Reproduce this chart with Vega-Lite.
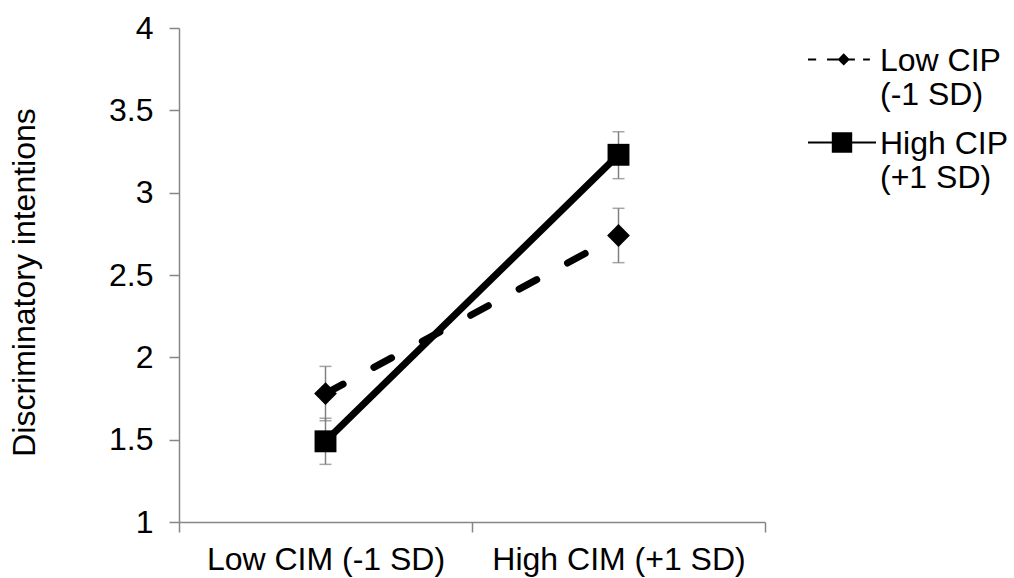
{
  "$schema": "https://vega.github.io/schema/vega-lite/v6.json",
  "width": 586,
  "height": 494,
  "autosize": {"type": "none"},
  "padding": {"left": 179, "top": 28, "right": 249, "bottom": 56},
  "config": {
    "font": "Liberation Sans",
    "view": {"stroke": null},
    "axis": {"grid": false, "domainColor": "#868686", "tickColor": "#868686", "domainWidth": 1.5, "tickWidth": 1.5, "labelColor": "#000000", "titleColor": "#000000", "labelFontSize": 32, "titleFontSize": 32, "titleFontWeight": "normal", "labelLimit": 400}
  },
  "data": {
    "values": [
      {"cim": "Low CIM (-1 SD)", "series": "Low CIP", "mean": 1.78, "lo": 1.615, "hi": 1.945},
      {"cim": "High CIM (+1 SD)", "series": "Low CIP", "mean": 2.74, "lo": 2.575, "hi": 2.905},
      {"cim": "Low CIM (-1 SD)", "series": "High CIP", "mean": 1.49, "lo": 1.35, "hi": 1.63},
      {"cim": "High CIM (+1 SD)", "series": "High CIP", "mean": 3.23, "lo": 3.085, "hi": 3.37}
    ]
  },
  "encoding": {
    "x": {
      "field": "cim", "type": "nominal",
      "scale": {"domain": ["Low CIM (-1 SD)", "High CIM (+1 SD)"], "paddingInner": 0, "paddingOuter": 0},
      "axis": {"title": null, "labelAngle": 0, "tickBand": "extent", "tickSize": 10, "labelPadding": 12}
    },
    "y": {
      "field": "mean", "type": "quantitative",
      "scale": {"domain": [1, 4], "nice": false, "zero": false},
      "axis": {"title": "Discriminatory intentions", "values": [1, 1.5, 2, 2.5, 3, 3.5, 4], "format": "~g", "tickSize": 10, "labelPadding": 16, "titlePadding": 67, "titleY": 254}
    }
  },
  "layer": [
    {
      "mark": {"type": "rule", "color": "#808080", "strokeWidth": 1.5},
      "encoding": {"y": {"field": "lo", "type": "quantitative"}, "y2": {"field": "hi"}}
    },
    {
      "mark": {"type": "tick", "color": "#808080", "size": 12, "thickness": 1.5},
      "encoding": {"y": {"field": "lo", "type": "quantitative"}}
    },
    {
      "mark": {"type": "tick", "color": "#808080", "size": 12, "thickness": 1.5},
      "encoding": {"y": {"field": "hi", "type": "quantitative"}}
    },
    {
      "transform": [{"filter": "datum.series == 'Low CIP'"}],
      "mark": {"type": "line", "color": "#000000", "strokeWidth": 7, "strokeCap": "round", "strokeDash": [20, 35]},
      "encoding": {}
    },
    {
      "transform": [{"filter": "datum.series == 'High CIP'"}],
      "mark": {"type": "line", "color": "#000000", "strokeWidth": 7, "strokeCap": "round"},
      "encoding": {}
    },
    {
      "transform": [{"filter": "datum.series == 'Low CIP'"}],
      "mark": {"type": "point", "shape": "diamond", "filled": true, "color": "#000000", "opacity": 1, "size": 520},
      "encoding": {}
    },
    {
      "transform": [{"filter": "datum.series == 'High CIP'"}],
      "mark": {"type": "point", "shape": "square", "filled": true, "color": "#000000", "opacity": 1, "size": 480},
      "encoding": {}
    },
    {
      "mark": {"type": "point", "filled": true, "color": "#000000", "opacity": 0, "size": 10},
      "encoding": {
        "shape": {
          "field": "series", "type": "nominal",
          "scale": {
            "domain": ["Low CIP", "High CIP"],
            "range": [
              "M-1,-0.37H-0.76V-0.31H-1ZM-0.44,-0.37H0.38V-0.31H-0.44ZM0.62,-0.37H0.82V-0.31H0.62ZM0.05,-0.52L0.23,-0.34L0.05,-0.16L-0.13,-0.34Z",
              "M-1,-0.37H1V-0.31H-1ZM-0.3,-0.64H0.3V-0.04H-0.3Z"
            ]
          },
          "legend": {
            "title": null,
            "orient": "right",
            "offset": 34,
            "padding": 9,
            "symbolSize": 4624,
            "symbolStrokeWidth": 0,
            "symbolOpacity": 1,
            "symbolFillColor": "#000000",
            "labelFontSize": 32,
            "labelLimit": 400,
            "labelOffset": 4,
            "rowPadding": 9,
            "labelBaseline": "alphabetic",
            "labelColor": "#000000",
            "labelExpr": "datum.label == 'Low CIP' ? ['Low CIP', '(-1 SD)'] : ['High CIP', '(+1 SD)']",
            "encode": {
              "labels": {
                "lineHeight": {"value": 36}
              }
            }
          }
        }
      }
    }
  ]
}
